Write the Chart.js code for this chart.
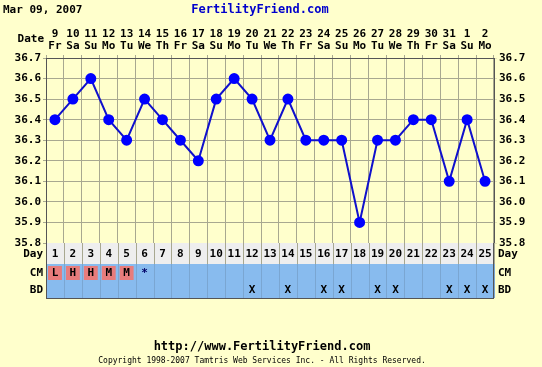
<!DOCTYPE html>
<html><head><meta charset="utf-8">
<script src="https://cdn.jsdelivr.net/npm/chart.js@4/dist/chart.umd.min.js"></script>
<style>
html,body{margin:0;padding:0;background:#ffffcc;}
canvas{display:block;}
</style></head>
<body>
<canvas id="c" width="542" height="367"></canvas>
<script>
const dates = ["9","10","11","12","13","14","15","16","17","18","19","20","21","22","23","24","25","26","27","28","29","30","31","1","2"];
const weekdays = ["Fr","Sa","Su","Mo","Tu","We","Th","Fr","Sa","Su","Mo","Tu","We","Th","Fr","Sa","Su","Mo","Tu","We","Th","Fr","Sa","Su","Mo"];
const temps = [36.4,36.5,36.6,36.4,36.3,36.5,36.4,36.3,36.2,36.5,36.6,36.5,36.3,36.5,36.3,36.3,36.3,35.9,36.3,36.3,36.4,36.4,36.1,36.4,36.1];
const cycleDays = [1,2,3,4,5,6,7,8,9,10,11,12,13,14,15,16,17,18,19,20,21,22,23,24,25];
const cm = ["L","H","H","M","M","*","","","","","","","","","","","","","","","","","","",""];
const bd = ["","","","","","","","","","","","X","","X","","X","X","","X","X","","","X","X","X"];
const yTicks = [35.8,35.9,36.0,36.1,36.2,36.3,36.4,36.5,36.6,36.7];
const headerDate = "Mar 09, 2007";
const siteName = "FertilityFriend.com";
const footerUrl = "http://www.FertilityFriend.com";
const copyright = "Copyright 1998-2007 Tamtris Web Services Inc. - All Rights Reserved.";

const FONT = "'DejaVu Sans Mono', monospace";
const BG = "#ffffcc";
const GRID = "#a8a890";

const extras = {
  id: 'extras',
  beforeDraw(chart) {
    const ctx = chart.ctx;
    ctx.save();
    ctx.fillStyle = BG;
    ctx.fillRect(0, 0, chart.width, chart.height);
    ctx.restore();
  },
  afterDraw(chart) {
    const ctx = chart.ctx;
    const x = chart.scales.x;
    const area = chart.chartArea;
    const n = cycleDays.length;
    const colW = (area.right - area.left) / n;
    const rows = [
      {y0: area.bottom, y1: area.bottom + 21, fill: "#eeeeee", label: "Day", vals: cycleDays},
      {y0: area.bottom + 21, y1: area.bottom + 38, fill: "#88bbee", label: "CM", vals: cm},
      {y0: area.bottom + 38, y1: area.bottom + 55, fill: "#88bbee", label: "BD", vals: bd}
    ];
    ctx.save();
    rows.forEach((r, ri) => {
      ctx.fillStyle = r.fill;
      ctx.fillRect(area.left, r.y0, area.right - area.left, r.y1 - r.y0);
      r.vals.forEach((v, i) => {
        const cx = x.getPixelForValue(i);
        if (ri === 1 && v && v !== "*") {
          ctx.fillStyle = "#e87c7c";
          ctx.fillRect(cx - colW/2 + 2, r.y0 + 2, colW - 4, r.y1 - r.y0 - 3);
        }
        if (v !== "") {
          ctx.fillStyle = ri === 1 && v === "*" ? "#000066" : "#000000";
          ctx.font = "bold 11px " + FONT;
          ctx.textAlign = "center";
          ctx.textBaseline = "middle";
          ctx.fillText(String(v), cx, (r.y0 + r.y1) / 2 + 1);
        }
      });
      ctx.strokeStyle = ri === 0 ? GRID : "#7aa6d2";
      ctx.lineWidth = 1;
      for (let i = 0; i <= n; i++) {
        const gx = Math.round(area.left + i * colW) + 0.5;
        ctx.beginPath(); ctx.moveTo(gx, r.y0); ctx.lineTo(gx, r.y1); ctx.stroke();
      }
      ctx.strokeStyle = "#555555";
      ctx.beginPath();
      ctx.moveTo(area.left, Math.round(r.y1) + 0.5);
      ctx.lineTo(area.right, Math.round(r.y1) + 0.5);
      ctx.stroke();
      ctx.fillStyle = "#000000";
      ctx.font = "bold 11px " + FONT;
      ctx.textBaseline = "middle";
      ctx.textAlign = "right";
      ctx.fillText(r.label, area.left - 3, (r.y0 + r.y1) / 2 + 1);
      ctx.textAlign = "left";
      ctx.fillText(r.label, area.right + 4, (r.y0 + r.y1) / 2 + 1);
    });
    ctx.strokeStyle = "#555555";
    ctx.beginPath();
    ctx.moveTo(Math.round(area.left) + 0.5, area.bottom);
    ctx.lineTo(Math.round(area.left) + 0.5, area.bottom + 55);
    ctx.moveTo(Math.round(area.right) - 0.5, area.bottom);
    ctx.lineTo(Math.round(area.right) - 0.5, area.bottom + 55);
    ctx.stroke();

    ctx.font = "bold 11px " + FONT;
    ctx.textBaseline = "middle";
    ctx.textAlign = "left";
    ctx.fillStyle = "#000000";
    ctx.fillText(headerDate, 3, 10);
    ctx.textAlign = "center";
    ctx.fillStyle = "#0000cc";
    ctx.font = "bold 12px " + FONT;
    ctx.fillText(siteName, 260, 10);
    ctx.fillStyle = "#000000";
    ctx.font = "bold 11px " + FONT;
    ctx.textAlign = "right";
    ctx.fillText("Date", 44, 39);
    ctx.textAlign = "center";
    ctx.font = "bold 12px " + FONT;
    ctx.fillText(footerUrl, 262, 347);
    ctx.font = "8px " + FONT;
    ctx.fillText(copyright, 262, 361);
    ctx.restore();
  }
};

const yAxisCommon = {
  type: 'linear',
  min: 35.8,
  max: 36.7,
  afterBuildTicks(axis) { axis.ticks = yTicks.map(v => ({value: v})); },
  ticks: {
    color: '#000000',
    font: {family: FONT, size: 11, weight: 'bold'},
    padding: 2,
    callback: v => Number(v).toFixed(1)
  },
  border: {color: '#555555'}
};

new Chart(document.getElementById('c'), {
  type: 'line',
  data: {
    labels: dates.map((d, i) => [d, weekdays[i]]),
    datasets: [{
      data: temps,
      borderColor: '#1010cc',
      backgroundColor: '#0000ff',
      pointBackgroundColor: '#0000ff',
      pointBorderColor: '#0000ff',
      borderWidth: 2,
      pointRadius: 4.5,
      tension: 0,
      fill: false
    }]
  },
  plugins: [extras],
  options: {
    responsive: false,
    animation: false,
    devicePixelRatio: 1,
    layout: {padding: {left: 0, right: 0, top: 0, bottom: 124}},
    plugins: {legend: {display: false}, tooltip: {enabled: false}, title: {display: false}},
    scales: {
      x: {
        type: 'category',
        position: 'top',
        offset: true,
        grid: {offset: true, color: GRID, tickLength: 3, drawTicks: true},
        border: {color: '#555555'},
        ticks: {
          color: '#000000',
          font: {family: FONT, size: 11, weight: 'bold', lineHeight: 1.1},
          maxRotation: 0, autoSkip: false, padding: 3
        },
        afterFit(axis) { axis.height = 58; }
      },
      y: Object.assign({}, yAxisCommon, {
        position: 'left',
        grid: {color: GRID, tickLength: 3},
        afterFit(axis) { axis.width = 46; }
      }),
      y2: Object.assign({}, yAxisCommon, {
        position: 'right',
        grid: {drawOnChartArea: false, tickLength: 3},
        afterFit(axis) { axis.width = 48; }
      })
    }
  }
});
</script>
</body></html>
